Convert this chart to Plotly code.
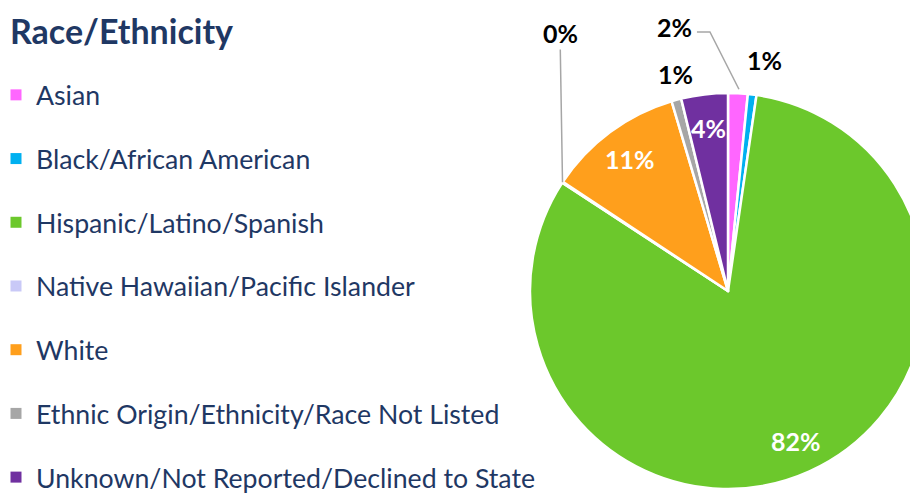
import math
import plotly.graph_objects as go

# data (share of respondents, %)
groups = ["Asian", "Black/African American", "Hispanic/Latino/Spanish",
          "Native Hawaiian/Pacific Islander", "White",
          "Ethnic Origin/Ethnicity/Race Not Listed",
          "Unknown/Not Reported/Declined to State"]
shares = [1.6, 0.7, 81.9, 0.1, 11.1, 0.8, 3.8]
colors = ["#FF66FF", "#00B0F0", "#6CC82C", "#C9C9F7", "#FF9F1C", "#A6A6A6", "#7030A0"]

W, H = 918, 499
OFF = 8  # page body margin
NAVY = "#1F3864"
FONT = "Lato"

# pie geometry in page pixels
CX, CY, R = 728, 291, 198


def px(x, y):
    # page pixels -> paper coords
    return (x - OFF) / W, 1 - (y - OFF) / H


total = sum(shares)
mids = []
acc = 0
for v in shares:
    a0 = acc / total * 360
    acc += v
    a1 = acc / total * 360
    mids.append((a0 + a1) / 2)


def edge(i, rr):
    t = math.radians(mids[i])
    return CX + rr * math.sin(t), CY - rr * math.cos(t)


fig = go.Figure()
fig.add_trace(go.Pie(
    labels=groups, values=shares, sort=False, direction="clockwise",
    marker=dict(colors=colors, line=dict(color="white", width=2.5)),
    textinfo="none", hoverinfo="label+percent", showlegend=False,
    domain=dict(x=[(CX - OFF - R) / W, min(1, (CX - OFF + R) / W)],
                y=[1 - (CY - OFF + R) / H, 1 - (CY - OFF - R) / H]),
))

# legend from dummy traces so the items can be spread out
for lab, c in zip(groups, colors):
    fig.add_trace(go.Scatter(
        x=[None], y=[None], mode="markers", name=lab, legendgroup=lab,
        marker=dict(symbol="square", size=11, color=c), showlegend=True))

annotations = []
shapes = []
pct = ["%d%%" % round(v / total * 100) for v in shares]
in_font = dict(family=FONT, size=25, color="white", weight="bold")
lbl_font = dict(family=FONT, size=25, color="black", weight="bold")


def label(x, y, txt, font):
    ax_, ay_ = px(x, y)
    annotations.append(dict(x=ax_, y=ay_, xref="paper", yref="paper", text=txt,
                            xanchor="center", yanchor="middle",
                            showarrow=False, font=font))


# percentages inside the big slices
for i, v in enumerate(shares):
    if v >= 3:
        x, y = edge(i, 0.83 * R)
        label(x, y, pct[i], in_font)

# 0% (Native Hawaiian) with vertical leader
tx, ty = edge(3, R)
x0, y0 = px(tx, ty)
annotations.append(dict(x=x0, y=y0, xref="paper", yref="paper", text=pct[3],
                        showarrow=True, arrowhead=0, arrowwidth=1.5, arrowcolor="#A6A6A6",
                        standoff=0, ax=-2.5, ay=33 - ty, font=lbl_font))
# 2% (Asian) with bent leader
tx, ty = edge(0, R)
label(tx - 63, 27, pct[0], lbl_font)
p1 = px(tx - 41, 32)
p2 = px(tx - 28, 32)
p3 = px(tx + 1, ty - 4)
shapes.append(dict(type="path", xref="paper", yref="paper",
                   path="M %f,%f L %f,%f L %f,%f" % (p1[0], p1[1], p2[0], p2[1], p3[0], p3[1]),
                   line=dict(color="#A6A6A6", width=1.5)))
# 1% (Black)
tx, ty = edge(1, R)
label(tx + 12, ty - 34, pct[1], lbl_font)
# 1% (not listed)
tx, ty = edge(5, R)
label(tx - 1, ty - 26, pct[5], lbl_font)

# title
annotations.append(dict(x=0, y=1, xref="paper", yref="paper",
                        xanchor="left", yanchor="top",
                        text="<b>Race/Ethnicity</b>", showarrow=False,
                        font=dict(family=FONT, size=34, color=NAVY)))

fig.update_layout(
    width=W, height=H,
    margin=dict(l=0, r=0, t=0, b=0, autoexpand=False),
    paper_bgcolor="white", plot_bgcolor="white",
    xaxis=dict(visible=False), yaxis=dict(visible=False),
    showlegend=True,
    legend=dict(x=-12 / W, y=1 - 63 / H, xanchor="left", yanchor="top",
                font=dict(family=FONT, size=26.7, color=NAVY),
                tracegroupgap=26, itemsizing="trace", bgcolor="rgba(0,0,0,0)"),
    annotations=annotations, shapes=shapes,
)

fig.write_html("out.html")
